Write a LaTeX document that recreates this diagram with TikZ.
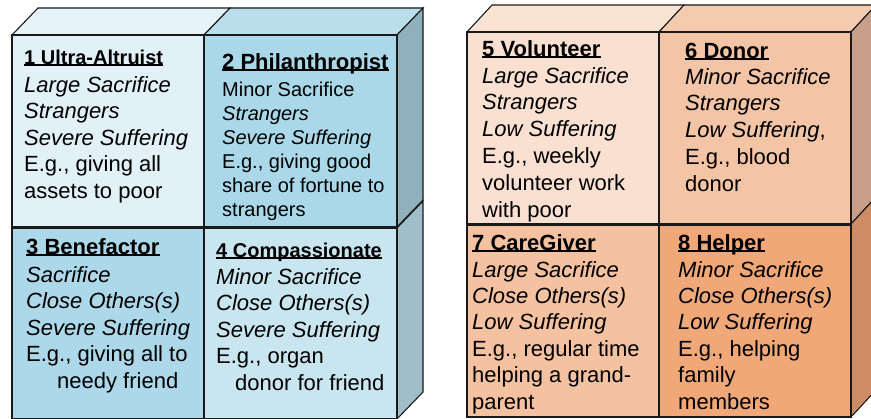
\documentclass[tikz,border=0pt]{standalone}
\usepackage{fontspec}
\setmainfont{Liberation Sans}

\definecolor{UAfront}{HTML}{E2F1F8}
\definecolor{UAtop}{HTML}{E6F3F9}
\definecolor{PHfront}{HTML}{AAD8E8}
\definecolor{PHtop}{HTML}{BADEEB}
\definecolor{BEfront}{HTML}{ADD8E9}
\definecolor{COfront}{HTML}{C8E5F0}
\definecolor{BlueSideA}{HTML}{8FB0BD}
\definecolor{BlueSideB}{HTML}{A0BEC8}
\definecolor{VOfront}{HTML}{FAE0D0}
\definecolor{VOtop}{HTML}{FBE3D4}
\definecolor{DOfront}{HTML}{F3C4A5}
\definecolor{DOtop}{HTML}{F5CBB0}
\definecolor{CGfront}{HTML}{F4C2A1}
\definecolor{HEfront}{HTML}{F0A878}
\definecolor{OrangeSideA}{HTML}{C8A08A}
\definecolor{OrangeSideB}{HTML}{CD8C64}

\tikzset{
  face/.style={draw=black!90, line width=1.1pt},
  celltitle/.style={anchor=base west, inner sep=0pt, font=\bfseries\fontsize{22}{26}\selectfont},
  cellbody/.style={anchor=north west, inner sep=0pt, align=left, font=\fontsize{22}{26.6}\selectfont},
  underline/.style={line width=1.1pt, yshift=-2.8pt},
}

\begin{document}
\begin{tikzpicture}[x=1pt, y=-1pt]
\useasboundingbox (0,0) rectangle (871,419);

    % Left block faces
    \filldraw[face, fill=UAtop] (12,35) -- (38,8) -- (230,8) -- (204,35) -- cycle;
    \filldraw[face, fill=PHtop] (204,35) -- (230,8) -- (423,8) -- (397,35) -- cycle;
    \filldraw[face, fill=BlueSideA] (397,35) -- (423,8) -- (423,200) -- (397,227) -- cycle;
    \filldraw[face, fill=BlueSideB] (397,228) -- (423,201) -- (423,392) -- (397,419) -- cycle;
    \filldraw[face, fill=UAfront] (12,35) rectangle (204,227);
    \filldraw[face, fill=PHfront] (204,35) rectangle (397,227);
    \filldraw[face, fill=BEfront] (12,228) rectangle (204,419);
    \filldraw[face, fill=COfront] (204,228) rectangle (397,419);

    % Right block faces
    \filldraw[face, fill=VOtop] (467,32) -- (492,5) -- (684,5) -- (659,32) -- cycle;
    \filldraw[face, fill=DOtop] (659,32) -- (684,5) -- (876,5) -- (851,32) -- cycle;
    \filldraw[face, fill=OrangeSideA] (851,32) -- (876,5) -- (876,197) -- (851,224) -- cycle;
    \filldraw[face, fill=OrangeSideB] (851,224) -- (876,197) -- (876,390) -- (851,417) -- cycle;
    \filldraw[face, fill=VOfront] (467,32) rectangle (659,224);
    \filldraw[face, fill=DOfront] (659,32) rectangle (851,224);
    \filldraw[face, fill=CGfront] (467,225) rectangle (659,417);
    \filldraw[face, fill=HEfront] (659,225) rectangle (851,417);

    % Titles
    \node (UltraAltruist) [celltitle, font=\bfseries\fontsize{20}{24}\selectfont] at (24,65) {1 Ultra-Altruist};
    \node (Philanthropist) [celltitle] at (222,70) {2 Philanthropist};
    \node (Benefactor) [celltitle] at (26,255) {3 Benefactor};
    \node (Compassionate) [celltitle, font=\bfseries\fontsize{20}{24}\selectfont] at (216,258) {4 Compassionate};
    \node (Volunteer) [celltitle] at (482,57) {5 Volunteer};
    \node (Donor) [celltitle] at (685,59) {6 Donor};
    \node (CareGiver) [celltitle] at (472,251) {7 CareGiver};
    \node (Helper) [celltitle] at (678,251) {8 Helper};

    % Underlines
    \foreach \t in {UltraAltruist, Philanthropist, Benefactor, Compassionate, Volunteer, Donor, CareGiver, Helper}
      \draw[underline] (\t.base west) -- (\t.base east);

    % Texts
    \node (UltraAltruistText) [cellbody] at (24,76)
      {\textit{Large Sacrifice}\\ \textit{Strangers}\\ \textit{Severe Suffering}\\ E.g., giving all\\ assets to poor};
    \node (PhilanthropistText) [cellbody, font=\fontsize{20}{24}\selectfont] at (222,81.5)
      {Minor Sacrifice\\ \textit{Strangers}\\ \textit{Severe Suffering}\\ E.g., giving good\\ share of fortune to\\ strangers};
    \node (BenefactorText) [cellbody] at (26,266)
      {\textit{Sacrifice}\\ \textit{Close Others(s)}\\ \textit{Severe Suffering}\\ E.g., giving all to\\ \hspace*{31pt}needy friend};
    \node (CompassionateText) [cellbody] at (216,268)
      {\textit{Minor Sacrifice}\\ \textit{Close Others(s)}\\ \textit{Severe Suffering}\\ E.g., organ\\ \hspace*{19pt}donor for friend};
    \node (VolunteerText) [cellbody, font=\fontsize{22}{26.8}\selectfont] at (482,67)
      {\textit{Large Sacrifice}\\ \textit{Strangers}\\ \textit{Low Suffering}\\ E.g., weekly\\ volunteer work\\ with poor};
    \node (DonorText) [cellbody, font=\fontsize{22}{26.8}\selectfont] at (685,68)
      {\textit{Minor Sacrifice}\\ \textit{Strangers}\\ \textit{Low Suffering},\\ E.g., blood\\ donor};
    \node (CareGiverText) [cellbody, font=\fontsize{22}{26.4}\selectfont] at (472,261)
      {\textit{Large Sacrifice}\\ \textit{Close Others(s)}\\ \textit{Low Suffering}\\ E.g., regular time\\ helping a grand-\\ parent};
    \node (HelperText) [cellbody, font=\fontsize{22}{26.4}\selectfont] at (678,261)
      {\textit{Minor Sacrifice}\\ \textit{Close Others(s)}\\ \textit{Low Suffering}\\ E.g., helping\\ family\\ members};

\end{tikzpicture}
\end{document}
